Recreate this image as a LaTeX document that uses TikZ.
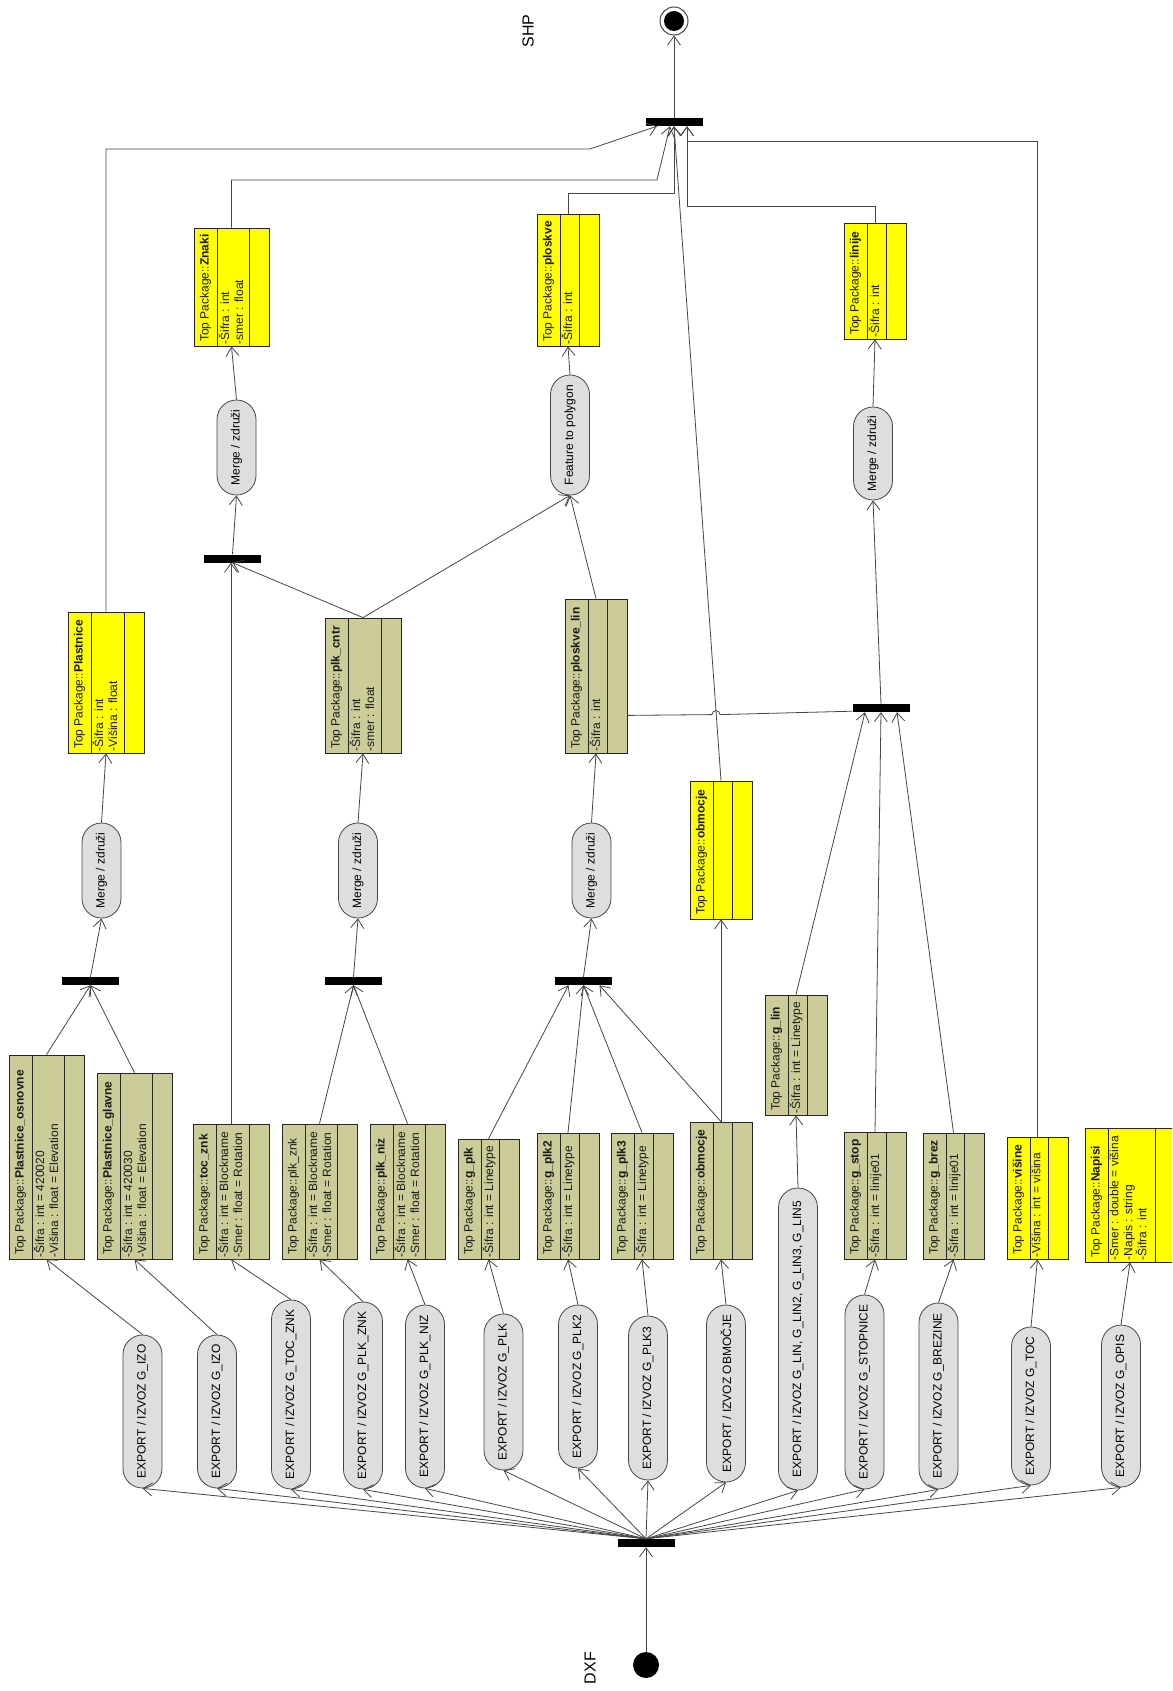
\documentclass[tikz,border=0pt]{standalone}
\usepackage{fontspec}
\setmainfont{Liberation Sans}
\usetikzlibrary{shapes.misc,arrows.meta,calc}
\definecolor{clsolive}{RGB}{204,204,153}
\definecolor{clsyellow}{RGB}{255,255,0}
\definecolor{pillgray}{RGB}{222,222,222}
\definecolor{lncol}{RGB}{70,70,70}
\newcommand\dgfont{\fontsize{12}{14}\selectfont}
\tikzset{
  conn/.style={draw=lncol, line width=0.8pt},
  flow/.style={conn, -{Straight Barb[length=9pt,width=13pt]}},
  pill/.style={rounded rectangle, draw=lncol, line width=0.8pt, fill=pillgray, rotate=90, inner sep=0pt, minimum height=39pt, font=\dgfont},
  fork/.style={rectangle, fill=black, inner sep=0pt, minimum width=57pt, minimum height=8pt},
  clsframe/.style={rectangle, draw=black!85, line width=0.8pt, inner sep=0pt},
  clsrule/.style={draw=black!85, line width=0.8pt},
  txt/.style={font=\dgfont, text=black!90},
  biglabel/.style={font=\fontsize{16}{18}\selectfont, rotate=90, inner sep=0pt},
}
\newcommand\umlbox[8]{%
  \node[clsframe, fill=#2, minimum width={(#5-#3)*1pt}, minimum height={(#6-#4)*1pt}] (#1) at ({(#3+#5)/2},{(#4+#6)/2}) {};
  \draw[clsrule] ({#3+23},#4) -- ({#3+23},#6);
  \draw[clsrule] ({#5-20},#4) -- ({#5-20},#6);
  \node[txt, rotate=90, anchor=west, inner sep=2pt] (#1-t) at ({#3+11.5},{#6-2}) {Top Package::#7};
  \node[txt, rotate=90, anchor=north west, align=left, inner sep=1.5pt] (#1-a) at ({#3+23},#6) {#8};
}
\begin{document}
\begin{tikzpicture}[x=1pt,y=-1pt]
\clip (0,0) rectangle (1172,1691);
\fill[white] (0,0) rectangle (1172,1691);

% ---------- class boxes (lower row) ----------
\umlbox{osn}{clsolive}{9}{1055}{84}{1259}{\textbf{Plastnice\_osnovne}}{-Šifra : int = 420020\\-Višina : float = Elevation}
\umlbox{glav}{clsolive}{97}{1073}{172}{1259}{\textbf{Plastnice\_glavne}}{-Šifra : int = 420030\\-Višina : float = Elevation}
\umlbox{toczn}{clsolive}{193}{1124}{269}{1259}{\textbf{toc\_znk}}{-Šifra : int = Blockname\\-Smer : float = Rotation}
\umlbox{plkznk}{clsolive}{282}{1124}{357}{1259}{plk\_znk}{-Šifra : int = Blockname\\-Smer : float = Rotation}
\umlbox{plkniz}{clsolive}{370}{1124}{445}{1259}{\textbf{plk\_niz}}{-Šifra : int = Blockname\\-Smer : float = Rotation}
\umlbox{gplk}{clsolive}{458}{1139}{519}{1259}{\textbf{g\_plk}}{-Šifra : int = Linetype}
\umlbox{gplkb}{clsolive}{537}{1133}{599}{1259}{\textbf{g\_plk2}}{-Šifra : int = Linetype}
\umlbox{gplkc}{clsolive}{611}{1133}{673}{1259}{\textbf{g\_plk3}}{-Šifra : int = Linetype}
\umlbox{obmO}{clsolive}{690}{1122}{752}{1259}{\textbf{obmocje}}{}
\umlbox{glin}{clsolive}{765}{995}{827}{1115}{\textbf{g\_lin}}{-Šifra : int = Linetype}
\umlbox{gstop}{clsolive}{844}{1132}{906}{1259}{\textbf{g\_stop}}{-Šifra : int = linije01}
\umlbox{gbrez}{clsolive}{923}{1133}{984}{1259}{\textbf{g\_brez}}{-Šifra : int = linije01}
\umlbox{visine}{clsyellow}{1007}{1137}{1068}{1259}{\textbf{višine}}{-Višina : int = višina}
\umlbox{napisi}{clsyellow}{1085}{1128}{1175}{1262}{\textbf{Napisi}}{-Smer : double = višina\\-Napis : string\\-Šifra : int}

% ---------- class boxes (upper) ----------
\umlbox{plast}{clsyellow}{68}{612}{144}{753}{\textbf{Plastnice}}{-Šifra : int\\-Višina : float}
\umlbox{plkcntr}{clsolive}{325}{618}{401}{753}{\textbf{plk\_cntr}}{-Šifra : int\\-smer : float}
\umlbox{plin}{clsolive}{565}{599}{627}{753}{\textbf{ploskve\_lin}}{-Šifra : int}
\umlbox{obmY}{clsyellow}{690}{781}{752}{919}{\textbf{obmocje}}{}
\umlbox{znaki}{clsyellow}{194}{228}{269}{346}{\textbf{Znaki}}{-Šifra : int\\-smer : float}
\umlbox{ploskve}{clsyellow}{537}{214}{599}{346}{\textbf{ploskve}}{-Šifra : int}
\umlbox{linije}{clsyellow}{844}{223}{906}{339}{\textbf{linije}}{-Šifra : int}

% ---------- export activities ----------
\node[pill, minimum width=153pt] (pIZOa) at (142.5,1411.5) {EXPORT / IZVOZ G\_IZO};
\node[pill, minimum width=153pt] (pIZOb) at (217,1411.5) {EXPORT / IZVOZ G\_IZO};
\node[pill, minimum width=189pt] (pTZ) at (291,1394.5) {EXPORT / IZVOZ G\_TOC\_ZNK};
\node[pill, minimum width=187pt] (pPZ) at (363,1395.5) {EXPORT / IZVOZ G\_PLK\_ZNK};
\node[pill, minimum width=183pt] (pPN) at (425,1396.5) {EXPORT / IZVOZ G\_PLK\_NIZ};
\node[pill, minimum width=156pt] (pPa) at (503.5,1392) {EXPORT / IZVOZ G\_PLK};
\node[pill, minimum width=163pt] (pPb) at (578,1386.5) {EXPORT / IZVOZ G\_PLK2};
\node[pill, minimum width=164pt] (pPc) at (648,1398) {EXPORT / IZVOZ G\_PLK3};
\node[pill, minimum width=177pt] (pOB) at (726,1393.5) {EXPORT / IZVOZ OBMOČJE};
\node[pill, minimum width=302pt] (pLIN) at (798,1339) {EXPORT / IZVOZ G\_LIN, G\_LIN2, G\_LIN3, G\_LIN5};
\node[pill, minimum width=194pt] (pST) at (864.5,1392) {EXPORT / IZVOZ G\_STOPNICE};
\node[pill, minimum width=186pt] (pBR) at (938.5,1396) {EXPORT / IZVOZ G\_BREZINE};
\node[pill, minimum width=158pt] (pTOC) at (1031,1406) {EXPORT / IZVOZ G\_TOC};
\node[pill, minimum width=162pt] (pOP) at (1121,1406) {EXPORT / IZVOZ G\_OPIS};

% ---------- merge / feature activities ----------
\node[pill, minimum width=95pt] (m1) at (101.5,870.5) {Merge / združi};
\node[pill, minimum width=95pt] (m2) at (358,870.5) {Merge / združi};
\node[pill, minimum width=95pt] (m3) at (591.5,870.5) {Merge / združi};
\node[pill, minimum width=95pt] (m4) at (236.5,447.5) {Merge / združi};
\node[pill, minimum width=93pt] (m5) at (873,453.5) {Merge / združi};
\node[pill, minimum width=120pt] (feat) at (570,435) {Feature to polygon};

% ---------- fork / join bars ----------
\node[fork] (F0) at (646,1543) {};
\node[fork] (F1) at (90.5,981) {};
\node[fork] (F2) at (353.5,981) {};
\node[fork] (F3) at (583.5,981) {};
\node[fork] (F4) at (232.5,558.5) {};
\node[fork] (F5) at (881,708) {};
\node[fork] (F6) at (674,122) {};

% ---------- start / end ----------
\node[circle, fill=black, minimum size=26pt, inner sep=0pt] (start) at (646,1665) {};
\node[circle, draw=lncol, line width=1pt, fill=white, minimum size=28pt, inner sep=0pt] (finish) at (674,21) {};
\node[circle, fill=black, minimum size=20pt, inner sep=0pt] (finishdot) at (finish) {};
\node[biglabel] (dxf) at (590,1668) {DXF};
\node[biglabel] (shp) at (528,31) {SHP};

% ---------- connectors ----------
\draw[flow] (start) -- (F0);
\foreach \p in {pIZOa,pIZOb,pTZ,pPZ,pPN,pPa,pPb,pPc,pOB,pLIN,pST,pBR,pTOC,pOP}
  \draw[flow] (F0.north) -- (\p.west);

\draw[flow] (pIZOa.east) -- (osn.south);
\draw[flow] (pIZOb.east) -- (glav.south);
\draw[flow] (pTZ.east) -- (toczn.south);
\draw[flow] (pPZ.east) -- (plkznk.south);
\draw[flow] (pPN.east) -- (plkniz.south);
\draw[flow] (pPa.east) -- (gplk.south);
\draw[flow] (pPb.east) -- (gplkb.south);
\draw[flow] (pPc.east) -- (gplkc.south);
\draw[flow] (pOB.east) -- (obmO.south);
\draw[flow] (pLIN.east) -- (glin.south);
\draw[flow] (pST.east) -- (gstop.south);
\draw[flow] (pBR.east) -- (gbrez.south);
\draw[flow] (pTOC.east) -- (visine.south);
\draw[flow] (pOP.east) -- (napisi.south);

% Plastnice branch
\draw[flow] (osn.north) -- (F1.south);
\draw[flow] (glav.north) -- (F1.south);
\draw[flow] (F1.north) -- (m1.west);
\draw[flow] (m1.east) -- (plast.south);
\draw[flow] (plast.north) |- (590,149) -- ($(F6.south)+(-17,0)$);

% Znaki branch
\draw[flow] (toczn.north) -- (toczn.north |- F4.south);
\draw[flow] (plkcntr.north) -- (F4.south);
\draw[flow] (F4.north) -- (m4.west);
\draw[flow] (m4.east) -- (znaki.south);
\draw[flow] (znaki.north) |- (657,180) -- ($(F6.south)+(-4,0)$);

% plk_cntr branch
\draw[flow] (plkznk.north) -- (F2.south);
\draw[flow] (plkniz.north) -- (F2.south);
\draw[flow] (F2.north) -- (m2.west);
\draw[flow] (m2.east) -- (plkcntr.south);
\draw[flow] (plkcntr.north) -- (feat.west);

% ploskve branch
\draw[flow] (gplk.north) -- ($(F3.south)+(-15,0)$);
\draw[flow] (gplkb.north) -- (F3.south);
\draw[flow] (gplkc.north) -- (F3.south);
\draw[flow] (obmO.north) -- ($(F3.south)+(16,0)$);
\draw[flow] (F3.north) -- (m3.west);
\draw[flow] (m3.east) -- (plin.south);
\draw[flow] (plin.north) -- (feat.west);
\draw[flow] (feat.east) -- (ploskve.south);
\draw[flow] (ploskve.north) -- ++(0,-20) -| (F6.south);

% obmocje
\draw[flow] (obmO.north) -- (obmY.south);
\draw[flow] (obmY.north) -- (F6.south);

% linije branch
\draw[conn] ($(plin.south east)+(0,-38)$) -- (712,714.6) arc[start angle=180, end angle=360, radius=4] -- ($(F5.south west)+(0,-1)$);
\draw[flow] (glin.north) -- ($(F5.south)+(-16,0)$);
\draw[flow] (gstop.north) -- (F5.south);
\draw[flow] (gbrez.north) -- ($(F5.south)+(16,0)$);
\draw[flow] (F5.north) -- (m5.west);
\draw[flow] (m5.east) -- (linije.south);
\draw[flow] (linije.north) -- ++(0,-16) -| ($(F6.south)+(13,0)$);
\draw[flow] (visine.north) |- (687,141) -- ($(F6.south)+(13,0)$);

% final
\draw[flow] (F6.north) -- (finish);
\end{tikzpicture}
\end{document}
